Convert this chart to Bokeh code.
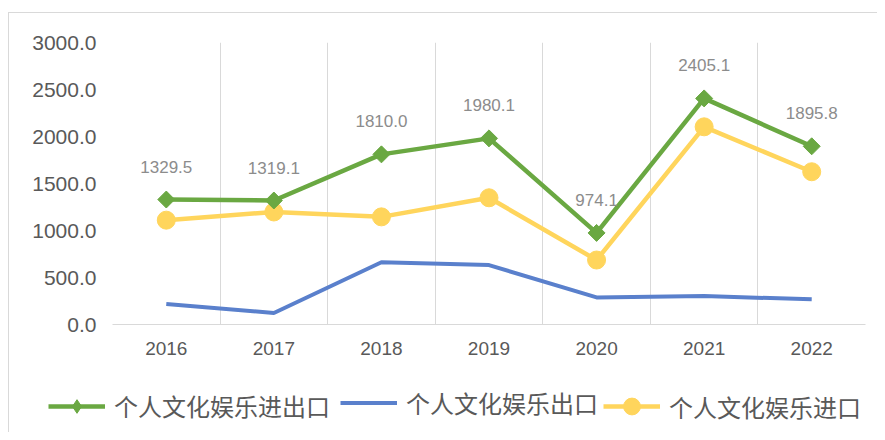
import math
from bokeh.plotting import figure
from bokeh.layouts import column, row
from bokeh.models import FixedTicker, Legend, LegendItem, ColumnDataSource
from bokeh.core.properties import value
from bokeh.embed import file_html
from bokeh.resources import INLINE

years = ["2016", "2017", "2018", "2019", "2020", "2021", "2022"]
total = [1329.5, 1319.1, 1810.0, 1980.1, 974.1, 2405.1, 1895.8]
exports = [218, 122, 662, 632, 288, 302, 268]
imports = [1110, 1197, 1145, 1348, 686, 2103, 1625]
y_ticks = [0, 500, 1000, 1500, 2000, 2500, 3000]
y_tick_labels = ["0.0", "500.0", "1000.0", "1500.0", "2000.0", "2500.0", "3000.0"]
series_names = ["个人文化娱乐进出口", "个人文化娱乐出口", "个人文化娱乐进口"]

GREEN = "#6aa842"
BLUE = "#5a80cc"
YELLOW = "#ffd55c"
AXIS_TXT = "#595959"
GRID = "#d9d9d9"

xs = list(range(len(years)))

p = figure(width=868, height=357, output_backend="svg", toolbar_location=None,
           x_range=(-0.5, len(years) - 0.5), y_range=(0, 3000),
           min_border_left=103, min_border_right=12, min_border_top=29,
           min_border_bottom=46)
p.outline_line_color = None
p.background_fill_color = "white"

# grid
p.ygrid.visible = False
p.xgrid.ticker = FixedTicker(ticks=[i - 0.5 for i in range(len(years) + 1)])
p.xgrid.grid_line_color = GRID
p.xgrid.grid_line_width = 1

# x axis
p.xaxis.ticker = FixedTicker(ticks=xs)
p.xaxis.major_label_overrides = {i: y for i, y in enumerate(years)}
p.xaxis.axis_line_color = GRID
p.xaxis.major_tick_line_color = None
p.xaxis.minor_tick_line_color = None
p.xaxis.major_tick_out = 0
p.xaxis.major_label_standoff = 17
p.xaxis.major_label_text_font = "Liberation Sans"
p.xaxis.major_label_text_font_size = "19px"
p.xaxis.major_label_text_color = AXIS_TXT

# y axis
p.yaxis.ticker = FixedTicker(ticks=y_ticks)
p.yaxis.major_label_overrides = {t: l for t, l in zip(y_ticks, y_tick_labels)}
p.yaxis.axis_line_color = None
p.yaxis.major_tick_line_color = None
p.yaxis.minor_tick_line_color = None
p.yaxis.major_tick_out = 0
p.yaxis.major_label_standoff = 16
p.yaxis.major_label_text_font = "Liberation Sans"
p.yaxis.major_label_text_font_size = "21px"
p.yaxis.major_label_text_color = AXIS_TXT

src = ColumnDataSource(dict(x=xs, total=total, exports=exports, imports=imports,
                            lbl=[f"{v:.1f}" for v in total]))

line_styles = [dict(line_color=GREEN, line_width=4.5),
               dict(line_color=BLUE, line_width=4),
               dict(line_color=YELLOW, line_width=4.5)]
marker_styles = [dict(marker="square", size=12, angle=math.pi / 4,
                      fill_color=GREEN, line_color=GREEN),
                 None,
                 dict(marker="circle", size=18, fill_color=YELLOW, line_color=YELLOW)]
legend_marker_styles = [dict(marker="diamond", fill_color=GREEN, line_color=GREEN),
                        None,
                        dict(marker="circle", fill_color=YELLOW, line_color=YELLOW)]
cols = ["total", "exports", "imports"]

p.line("x", "imports", source=src, **line_styles[2])
p.scatter("x", "imports", source=src, **marker_styles[2])
p.line("x", "exports", source=src, **line_styles[1])
p.line("x", "total", source=src, **line_styles[0])
p.scatter("x", "total", source=src, **marker_styles[0])

p.text("x", "total", text="lbl", source=src, y_offset=-33,
       text_align="center", text_baseline="middle",
       text_font=value("Liberation Sans"), text_font_size="17px",
       text_color="#8c8c8c")

# legend strip: same series, drawn out of view, only their legends show
lg = figure(width=868, height=62, output_backend="svg", toolbar_location=None,
            x_range=(100, 101), y_range=(-10, -9), x_axis_type=None, y_axis_type=None,
            min_border_left=0, min_border_right=0, min_border_top=0,
            min_border_bottom=0)
lg.outline_line_color = None
lg.xgrid.visible = False
lg.ygrid.visible = False

legend_x = [39, 331, 594]          # screen px of each legend entry
legend_glyph_h = [34, 27, 42]      # controls legend marker size
CENTER_FROM_BOTTOM = 26
for name, col, ls, ms, lx, gh in zip(series_names, cols, line_styles,
                                     legend_marker_styles, legend_x, legend_glyph_h):
    rs = [lg.line("x", col, source=src, **ls)]
    if ms is not None:
        rs.append(lg.scatter("x", col, source=src, **ms))
    h = max(gh, 28)
    leg = Legend(items=[LegendItem(label=name, renderers=rs)],
                 location=(lx, CENTER_FROM_BOTTOM - h / 2))
    leg.label_text_font = "Noto Sans CJK SC"
    leg.label_text_font_size = "24px"
    leg.label_text_color = AXIS_TXT
    leg.label_text_baseline = "middle"
    leg.glyph_width = 57
    leg.glyph_height = gh
    leg.label_standoff = 9
    leg.padding = 0
    leg.margin = 0
    leg.border_line_color = None
    leg.background_fill_alpha = 0
    lg.add_layout(leg, "center")

layout = column(p, row(lg), spacing=0)
layout.styles = {"border-left": "1px solid #d9d9d9",
                 "border-top": "1px solid #d9d9d9",
                 "margin-left": "8px", "margin-top": "12px"}

open("out.html", "w").write(file_html(layout, INLINE))
